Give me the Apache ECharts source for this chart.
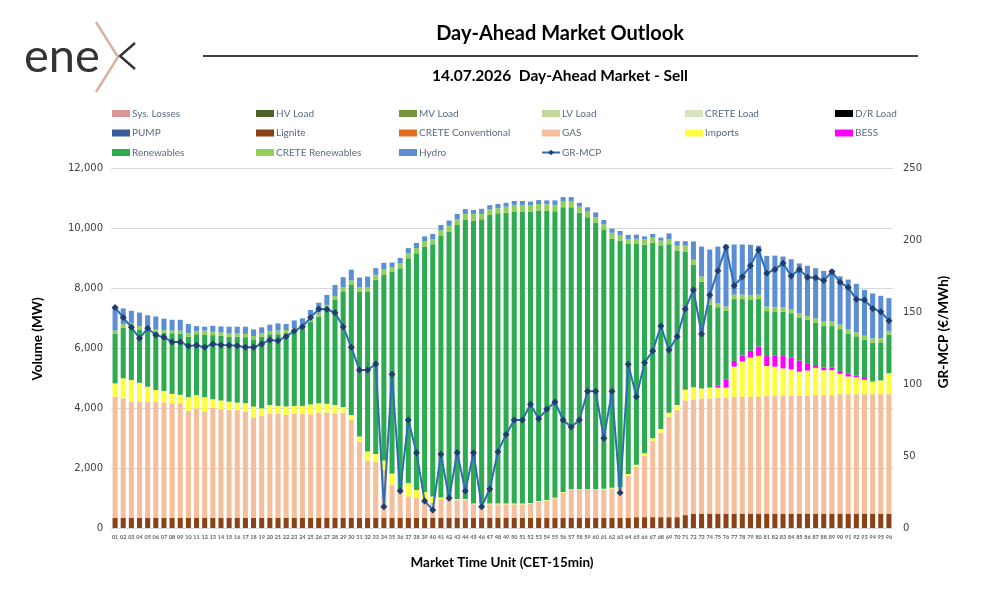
<!DOCTYPE html>
<html>
<head>
<meta charset="utf-8">
<script src="https://cdn.jsdelivr.net/npm/echarts/dist/echarts.min.js"></script>
<style>
html,body{margin:0;padding:0;background:#fff;}
#chart{width:983px;height:596px;}
</style>
</head>
<body>
<div id="chart"></div>
<script>
const categories = ['01','02','03','04','05','06','07','08','09','10','11','12','13','14','15','16','17','18','19','20','21','22','23','24','25','26','27','28','29','30','31','32','33','34','35','36','37','38','39','40','41','42','43','44','45','46','47','48','49','50','51','52','53','54','55','56','57','58','59','60','61','62','63','64','65','66','67','68','69','70','71','72','73','74','75','76','77','78','79','80','81','82','83','84','85','86','87','88','89','90','91','92','93','94','95','96'];

const sysLosses = [];
const hvLoad = [];
const mvLoad = [];
const lvLoad = [];
const creteLoad = [];
const drLoad = [];
const pump = [];
const creteConventional = [];

const lignite = [340,340,340,340,340,340,340,340,340,340,340,340,340,340,340,340,340,340,340,340,340,340,340,340,340,340,340,340,340,340,340,340,340,340,340,340,340,340,340,340,340,340,340,340,340,340,340,340,340,340,340,340,340,340,340,340,340,340,340,340,340,340,340,340,360,360,360,360,360,360,430,480,480,480,480,480,480,480,480,480,480,480,480,480,480,480,480,480,480,480,480,480,480,480,480,480];

const gas = [4040,3980,3870,3870,3870,3860,3850,3820,3820,3570,
3650,3540,3680,3620,3590,3590,3540,3340,3390,3460,
3460,3430,3460,3460,3450,3510,3510,3480,3510,3260,
2540,1890,1870,1610,1110,860,710,660,560,510,
620,590,590,590,450,450,450,450,450,450,
450,460,540,570,650,840,930,930,930,930,
950,980,1000,1400,1690,2050,2550,2820,3350,3570,
3820,3810,3840,3840,3870,3870,3900,3900,3900,3900,
3920,3920,3920,3930,3930,3930,3950,3950,3950,3980,
3980,3980,3980,3980,3980,3980];

const imports = [440,670,720,630,500,400,380,310,280,450,
440,480,270,290,280,250,280,370,260,300,
270,280,270,270,330,310,290,280,180,170,
170,320,260,300,370,50,450,270,300,200,
60,40,40,40,30,30,30,30,30,30,
30,30,20,20,20,20,20,20,20,20,
20,20,20,60,60,80,80,120,130,170,
360,400,330,360,330,330,1000,1170,1300,1360,
1000,980,920,880,800,840,910,830,830,680,
590,570,480,420,460,700];

const bess = [0,0,0,0,0,0,0,0,0,0,
0,0,0,0,0,0,0,0,0,0,
0,0,0,0,0,0,0,0,0,0,
0,0,0,0,0,0,0,0,0,0,
0,0,0,0,0,0,0,0,0,0,
0,0,0,0,0,0,0,0,0,0,
0,0,0,0,0,0,0,0,0,0,
0,0,0,0,70,260,190,200,230,310,
330,360,410,390,370,220,90,90,90,100,
90,50,60,0,0,0];

const renewables = [1650,1690,1780,1780,1870,1950,1940,2020,2030,2020,
2030,2080,2140,2160,2170,2200,2200,2240,2390,2360,
2390,2440,2480,2590,2760,2890,3190,3500,3860,4330,
4830,5330,5800,6180,6730,7410,7490,7890,8180,8410,
8710,8910,9130,9300,9430,9470,9610,9670,9690,9730,
9730,9720,9680,9640,9550,9490,9400,9220,9070,8890,
8620,8310,8220,7670,7370,6950,6520,6100,5620,5150,
4610,4080,3560,2760,2610,2300,2060,1880,1710,1580,
1500,1480,1480,1480,1440,1470,1410,1380,1380,1390,
1330,1310,1280,1300,1270,1280];

const creteRenewables = [110,110,110,110,90,80,90,90,110,110,
110,140,110,110,110,110,110,110,110,110,
120,110,110,110,110,130,110,130,140,150,
140,140,170,190,140,170,170,170,170,170,
200,190,190,200,220,180,190,170,200,220,
220,200,220,220,210,190,190,200,190,180,
190,190,190,160,160,190,170,180,160,160,
190,170,170,170,130,150,150,150,150,150,
150,150,150,130,130,130,150,150,150,150,
160,130,130,140,140,130];

const hydro = [800,530,420,450,420,420,380,360,360,310,
160,130,200,200,220,220,240,220,200,210,
240,200,260,220,280,330,330,370,330,360,
330,360,220,220,160,170,170,170,170,170,
170,180,180,160,130,170,140,140,130,130,
130,130,130,130,150,150,150,130,140,160,
150,140,130,140,140,90,120,100,200,150,
150,610,1000,1670,1890,2060,1670,1670,1670,1630,
1690,1710,1690,1670,1670,1670,1670,1690,1740,1610,
1650,1620,1530,1500,1410,1090];

const grMcp = [153.2,146.1,139.4,131.7,138.7,134.0,132.4,129.2,129.2,126.4,
126.9,125.5,127.8,127.1,126.9,126.6,125.5,125.5,127.8,130.6,
130.1,132.9,136.8,139.8,146.1,152.1,151.9,149.5,139.8,125.5,
109.7,109.7,113.9,14.8,106.7,25.7,75.0,52.3,18.8,12.5,
51.2,20.6,52.5,25.7,52.3,14.8,27.1,53.0,65.0,75.0,
75.0,85.9,75.9,82.4,87.5,75.0,70.1,75.0,94.9,94.9,
62.3,94.9,24.5,113.7,91.2,114.8,122.9,140.3,123.6,132.9,
152.1,165.3,134.7,161.8,178.7,194.9,168.3,174.5,182.2,193.1,
176.9,179.6,183.8,175.0,179.6,174.1,173.8,171.8,178.0,170.6,
167.1,158.8,158.3,152.5,150.2,144.0];

const leftTicks = {min: 0, max: 12000, interval: 2000};
const rightTicks = {min: 0, max: 250, interval: 50};

const FONT = 'Lato, "Noto Sans", sans-serif';
const WIDE = '"DejaVu Sans", Lato, sans-serif';

const barDefs = [
  ['Sys. Losses', sysLosses, '#d99694'],
  ['HV Load', hvLoad, '#4f6228'],
  ['MV Load', mvLoad, '#77933c'],
  ['LV Load', lvLoad, '#c3d69b'],
  ['CRETE Load', creteLoad, '#d7e4bd'],
  ['D/R Load', drLoad, '#000000'],
  ['PUMP', pump, '#3a5c98'],
  ['Lignite', lignite, '#8b4216'],
  ['CRETE Conventional', creteConventional, '#e36c1e'],
  ['GAS', gas, '#f6bf9c'],
  ['Imports', imports, '#ffff3f'],
  ['BESS', bess, '#ff00ff'],
  ['Renewables', renewables, '#2eab50'],
  ['CRETE Renewables', creteRenewables, '#93d05a'],
  ['Hydro', hydro, '#5b8ed3']
];

const series = barDefs.map(d => ({
  name: d[0], type: 'bar', stack: 'vol', data: d[1],
  itemStyle: {color: d[2]}, barCategoryGap: '38%',
  emphasis: {disabled: true}
}));
series.push({
  name: 'GR-MCP', type: 'line', yAxisIndex: 1, data: grMcp,
  symbol: 'diamond', symbolSize: 7,
  lineStyle: {color: '#2e6db3', width: 2},
  itemStyle: {color: '#203d6b'},
  z: 10
});

const legendCols = [
  {left: 112, data: ['Sys. Losses','PUMP','Renewables']},
  {left: 256, data: ['HV Load','Lignite','CRETE Renewables']},
  {left: 399, data: ['MV Load','CRETE Conventional','Hydro']},
  {left: 541, data: ['LV Load','GAS','GR-MCP']},
  {left: 685, data: ['CRETE Load','Imports']},
  {left: 835, data: ['D/R Load','BESS']}
];

const legends = legendCols.map(c => ({
  left: c.left, top: 107.5, orient: 'vertical', itemGap: 7.5, padding: 0,
  itemWidth: 18, itemHeight: 7,
  data: c.data.map(n => n === 'GR-MCP' ? {name: n} : {name: n, icon: 'rect'}),
  textStyle: {fontFamily: FONT, fontSize: 10, color: '#5a6a80', lineHeight: 12, padding: [0,0,0,-3]},
  selectedMode: false
}));

const nameStyle = 'bold 13.5px Lato, "Noto Sans", sans-serif';

const chart = echarts.init(document.getElementById('chart'), null, {renderer: 'canvas'});
chart.setOption({
  animation: false,
  backgroundColor: '#ffffff',
  legend: legends,
  grid: {left: 111, right: 90, top: 168, bottom: 68},
  xAxis: {
    type: 'category', data: categories,
    axisLine: {show: false}, axisTick: {show: false},
    axisLabel: {interval: 0, fontSize: 5.5, color: '#606060', fontFamily: FONT, fontWeight: 'bold', margin: 6},
    name: 'Market Time Unit (CET-15min)', nameLocation: 'middle', nameGap: 28,
    nameTextStyle: {fontFamily: FONT, fontWeight: 'bold', fontSize: 13.5, color: '#000'}
  },
  yAxis: [{
    type: 'value', min: leftTicks.min, max: leftTicks.max, interval: leftTicks.interval,
    axisLine: {show: false}, axisTick: {show: false},
    splitLine: {lineStyle: {color: '#d9d9d9', width: 1}},
    axisLabel: {fontSize: 10, color: '#404040', fontFamily: WIDE, margin: 8,
      formatter: v => v.toLocaleString('en-US')}
  }, {
    type: 'value', min: rightTicks.min, max: rightTicks.max, interval: rightTicks.interval,
    position: 'right',
    axisLine: {show: false}, axisTick: {show: false}, splitLine: {show: false},
    axisLabel: {fontSize: 10, color: '#404040', fontFamily: WIDE, margin: 10}
  }],
  graphic: [
    {type: 'text', left: 24, top: 33, style: {text: 'ene', font: 'normal 47px Lato, "Open Sans", sans-serif', fill: '#333333'}},
    {type: 'polyline', shape: {points: [[96,22],[118,57],[96,92]]}, style: {stroke: '#d8b2a0', lineWidth: 2.5, fill: null}},
    {type: 'polyline', shape: {points: [[135,43],[120,56],[135,69]]}, style: {stroke: '#333333', lineWidth: 2.4, fill: null}},
    {type: 'text', x: 560, y: 34, style: {text: 'Day-Ahead Market Outlook', font: 'bold 20px Lato, "Noto Sans", sans-serif', fill: '#000', align: 'center', verticalAlign: 'middle'}},
    {type: 'line', shape: {x1: 203, y1: 56, x2: 918, y2: 56}, style: {stroke: '#000', lineWidth: 1.5}},
    {type: 'text', x: 560, y: 76, style: {text: '14.07.2026  Day-Ahead Market - Sell', font: 'bold 15.5px Lato, "Noto Sans", sans-serif', fill: '#000', align: 'center', verticalAlign: 'middle'}},
    {type: 'text', x: 38, y: 339, rotation: Math.PI / 2, style: {text: 'Volume (MW)', font: nameStyle, fill: '#000', align: 'center', verticalAlign: 'middle'}},
    {type: 'text', x: 944, y: 332, rotation: Math.PI / 2, style: {text: 'GR-MCP (€/MWh)', font: nameStyle, fill: '#000', align: 'center', verticalAlign: 'middle'}}
  ],
  series: series
});
</script>
</body>
</html>
